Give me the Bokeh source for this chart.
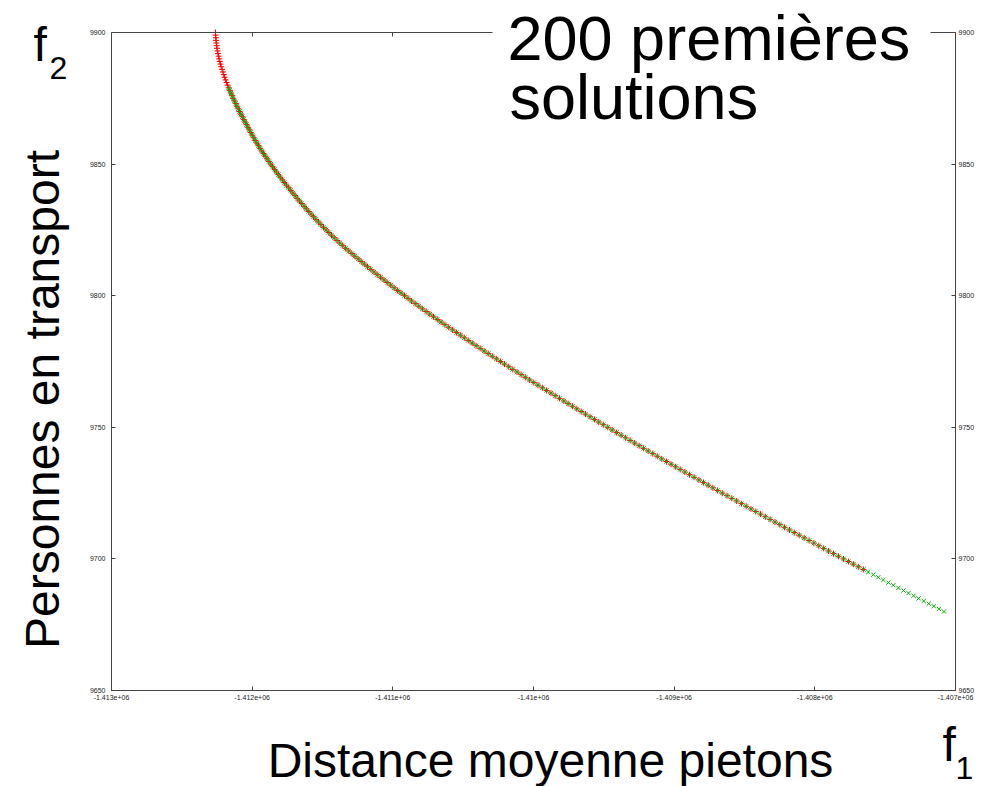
import math
from bokeh.plotting import figure
from bokeh.models import Range1d, LinearAxis, FixedTicker, Label, BoxAnnotation
from bokeh.embed import file_html
from bokeh.resources import INLINE

# f1 (distance moyenne pietons) read along the front, one value per f2 step
f1_values = [
    -1412261, -1412260, -1412258, -1412257, -1412255, -1412252, -1412250, -1412246, -1412243, -1412239,
    -1412235, -1412230, -1412225, -1412220, -1412214, -1412208, -1412202, -1412196, -1412189, -1412182,
    -1412175, -1412167, -1412159, -1412151, -1412143, -1412135, -1412126, -1412117, -1412108, -1412099,
    -1412090, -1412080, -1412070, -1412060, -1412050, -1412040, -1412030, -1412020, -1412010, -1411999,
    -1411989, -1411978, -1411967, -1411955, -1411944, -1411932, -1411919, -1411907, -1411894, -1411881,
    -1411868, -1411855, -1411841, -1411828, -1411814, -1411800, -1411785, -1411771, -1411756, -1411741,
    -1411726, -1411711, -1411695, -1411680, -1411664, -1411648, -1411631, -1411615, -1411598, -1411581,
    -1411564, -1411547, -1411529, -1411511, -1411493, -1411474, -1411455, -1411436, -1411417, -1411397,
    -1411377, -1411356, -1411335, -1411313, -1411291, -1411270, -1411247, -1411225, -1411203, -1411180,
    -1411157, -1411134, -1411111, -1411087, -1411063, -1411040, -1411015, -1410991, -1410967, -1410942,
    -1410917, -1410892, -1410867, -1410841, -1410815, -1410790, -1410763, -1410737, -1410711, -1410684,
    -1410657, -1410630, -1410603, -1410575, -1410548, -1410520, -1410492, -1410464, -1410436, -1410408,
    -1410379, -1410351, -1410322, -1410293, -1410264, -1410235, -1410206, -1410176, -1410147, -1410117,
    -1410088, -1410058, -1410028, -1409998, -1409968, -1409937, -1409907, -1409876, -1409846, -1409815,
    -1409784, -1409754, -1409723, -1409692, -1409661, -1409630, -1409598, -1409567, -1409536, -1409504,
    -1409472, -1409441, -1409409, -1409377, -1409345, -1409313, -1409281, -1409249, -1409217, -1409185,
    -1409152, -1409120, -1409088, -1409055, -1409022, -1408990, -1408957, -1408924, -1408891, -1408858,
    -1408824, -1408791, -1408758, -1408725, -1408691, -1408658, -1408624, -1408590, -1408556, -1408522,
    -1408488, -1408454, -1408420, -1408386, -1408352, -1408318, -1408283, -1408249, -1408215, -1408180,
    -1408146, -1408111, -1408076, -1408041, -1408007, -1407972, -1407937, -1407902, -1407867, -1407832,
    -1407796, -1407761, -1407726, -1407691, -1407655, -1407620, -1407584, -1407549, -1407513, -1407477,
    -1407442, -1407406, -1407370, -1407334, -1407298, -1407262, -1407226, -1407190, -1407154, -1407118,
    -1407082,
]

# f2 (personnes en transport), integer values
f2_values = [
    9900, 9899, 9898, 9897, 9896, 9895, 9894, 9893, 9892, 9891,
    9890, 9889, 9888, 9887, 9886, 9885, 9884, 9883, 9882, 9881,
    9880, 9879, 9878, 9877, 9876, 9875, 9874, 9873, 9872, 9871,
    9870, 9869, 9868, 9867, 9866, 9865, 9864, 9863, 9862, 9861,
    9860, 9859, 9858, 9857, 9856, 9855, 9854, 9853, 9852, 9851,
    9850, 9849, 9848, 9847, 9846, 9845, 9844, 9843, 9842, 9841,
    9840, 9839, 9838, 9837, 9836, 9835, 9834, 9833, 9832, 9831,
    9830, 9829, 9828, 9827, 9826, 9825, 9824, 9823, 9822, 9821,
    9820, 9819, 9818, 9817, 9816, 9815, 9814, 9813, 9812, 9811,
    9810, 9809, 9808, 9807, 9806, 9805, 9804, 9803, 9802, 9801,
    9800, 9799, 9798, 9797, 9796, 9795, 9794, 9793, 9792, 9791,
    9790, 9789, 9788, 9787, 9786, 9785, 9784, 9783, 9782, 9781,
    9780, 9779, 9778, 9777, 9776, 9775, 9774, 9773, 9772, 9771,
    9770, 9769, 9768, 9767, 9766, 9765, 9764, 9763, 9762, 9761,
    9760, 9759, 9758, 9757, 9756, 9755, 9754, 9753, 9752, 9751,
    9750, 9749, 9748, 9747, 9746, 9745, 9744, 9743, 9742, 9741,
    9740, 9739, 9738, 9737, 9736, 9735, 9734, 9733, 9732, 9731,
    9730, 9729, 9728, 9727, 9726, 9725, 9724, 9723, 9722, 9721,
    9720, 9719, 9718, 9717, 9716, 9715, 9714, 9713, 9712, 9711,
    9710, 9709, 9708, 9707, 9706, 9705, 9704, 9703, 9702, 9701,
    9700, 9699, 9698, 9697, 9696, 9695, 9694, 9693, 9692, 9691,
    9690, 9689, 9688, 9687, 9686, 9685, 9684, 9683, 9682, 9681,
    9680,
]

# red "+" series: first part of the front; green "x" series: later part
red_f1 = f1_values[0:205]
red_f2 = f2_values[0:205]
green_f1 = f1_values[21:221]
green_f2 = f2_values[21:221]

x_ticks = [-1413000, -1412000, -1411000, -1410000, -1409000, -1408000, -1407000]
x_tick_labels = ["-1.413e+06", "-1.412e+06", "-1.411e+06", "-1.41e+06",
                 "-1.409e+06", "-1.408e+06", "-1.407e+06"]
y_ticks = [9650, 9700, 9750, 9800, 9850, 9900]
y_tick_labels = ["9650", "9700", "9750", "9800", "9850", "9900"]

# ---- layout: the plotting frame covers the whole page; axes sit at fixed
# data locations so that the surrounding titles are not clipped
W, H = 982, 786
FL, FR, FT, FB = 111, 955, 32, 690          # pixel box of the data area
X0, X1 = x_ticks[0], x_ticks[-1]
Y0, Y1 = y_ticks[0], y_ticks[-1]
KX = (X1 - X0) / (FR - FL)
KY = (Y1 - Y0) / (FB - FT)


def sx(px):
    return X0 + (px - FL) * KX


def sy(py):
    return Y1 - (py - FT) * KY


p = figure(width=W, height=H, output_backend="svg", toolbar_location=None,
           x_range=Range1d(sx(0), sx(W)), y_range=Range1d(sy(H), sy(0)),
           x_axis_location=None, y_axis_location=None,
           min_border=0, min_border_left=0, min_border_right=0,
           min_border_top=0, min_border_bottom=0)
p.grid.visible = False
p.outline_line_color = None
p.background_fill_color = "white"
p.border_fill_color = "white"

AX_COLOR = "#444444"


def make_axis(is_x, loc, labels_on):
    ax = LinearAxis(fixed_location=loc)
    ticks = x_ticks if is_x else y_ticks
    labels = x_tick_labels if is_x else y_tick_labels
    ax.ticker = FixedTicker(ticks=ticks)
    ax.bounds = (ticks[0], ticks[-1])
    ax.major_label_overrides = {t: (s if labels_on else "") for t, s in zip(ticks, labels)}
    ax.axis_line_color = AX_COLOR
    ax.axis_line_width = 1
    ax.major_tick_line_color = AX_COLOR
    ax.major_tick_in = 4
    ax.major_tick_out = 0
    ax.minor_tick_line_color = None
    ax.major_label_text_font = "Liberation Sans"
    ax.major_label_text_font_size = "7px"
    ax.major_label_text_color = "#222222"
    return ax


ax_b = make_axis(True, Y0, True)
ax_b.major_label_standoff = 4
ax_t = make_axis(True, Y1, False)
ax_l = make_axis(False, X0, True)
ax_l.major_label_standoff = 6
ax_r = make_axis(False, X1, True)
ax_r.major_label_standoff = 3
p.add_layout(ax_b, "below")
p.add_layout(ax_t, "above")
p.add_layout(ax_l, "left")
p.add_layout(ax_r, "right")

p.scatter(red_f1, red_f2, marker="cross", size=6, line_color="#ff0000", line_width=1)
p.scatter(green_f1, green_f2, marker="x", size=6, line_color="#00b000", line_width=1)

# white key box hiding part of the top border
p.add_layout(BoxAnnotation(left=sx(492), right=sx(930), top=sy(0), bottom=sy(40),
                           fill_color="white", fill_alpha=1.0, line_color=None,
                           level="overlay"))


def add_text(text, px, py, size, align="left", angle=0.0):
    p.add_layout(Label(x=sx(px), y=sy(py), x_units="data", y_units="data",
                       text=text, text_font="Liberation Sans",
                       text_font_size=f"{size}px", text_color="black",
                       text_align=align, text_baseline="middle",
                       angle=angle, level="overlay"))


add_text("f", 33, 44, 48)
add_text("2", 49, 67, 32)
add_text("Personnes en transport", 42, 399, 48, align="center", angle=math.pi / 2)
add_text("Distance moyenne pietons", 550, 760, 48, align="center")
add_text("f", 942, 744, 48)
add_text("1", 955, 767, 32)
add_text("200 premières", 507, 37, 63)
add_text("solutions", 509, 96, 63)

open("out.html", "w").write(file_html(p, INLINE))
